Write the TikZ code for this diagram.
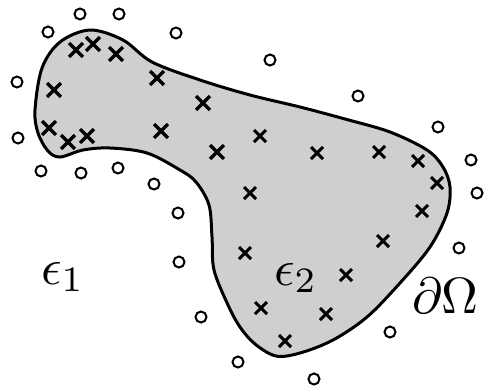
\documentclass[tikz,border=0pt]{standalone}
\usetikzlibrary{shapes.misc}
\begin{document}
\begin{tikzpicture}[x=1pt,y=-1pt,
  dot/.style={circle,draw,line width=2pt,minimum size=11pt,inner sep=0pt},
  xbig/.style={cross out,draw,line width=3.3pt,minimum size=10.5pt,inner sep=0pt},
  xsml/.style={cross out,draw,line width=3pt,minimum size=9pt,inner sep=0pt},
  lab/.style={anchor=base west,inner sep=0pt,scale=5.1}]
\useasboundingbox (0,0) rectangle (489,389);
\draw[fill=black!19,line width=3pt] plot[smooth cycle,tension=0.55] coordinates {
 (35,110) (42,68) (60,42) (90,30) (123,40) (152,62) (200,80) (250,95)
 (300,107) (345,119) (390,132) (427,150) (443,167) (450,187) (447,213)
 (430,247) (400,283) (367,317) (333,340) (300,353) (276,356) (255,344)
 (240,327) (228,305) (214,270) (212,237) (209,205) (196,182) (180,170)
 (147,153) (110,148) (83,150) (60,157) (48,151) (38,133)};
% outer points
\foreach \n/\p in {1/{(80,14)},2/{(119,14)},3/{(48,32)},4/{(176,33)},5/{(270,60)},
  6/{(17,82)},7/{(358,96)},8/{(18,138)},9/{(438,127)},10/{(471,160)},11/{(41,171)},
  12/{(81,173)},13/{(118,168)},14/{(154,184)},15/{(477,193)},16/{(178,213)},
  17/{(459,248)},18/{(179,262)},19/{(201,317)},20/{(390,332)},21/{(238,362)},22/{(314,379)}}
  \node[dot] (o\n) at \p {};
% inner points
\foreach \n/\p in {1/{(76,50)},2/{(93,44)},3/{(116,54)},4/{(157,78)},5/{(54,90)},
  6/{(203,103)},7/{(49,128)},8/{(68,142)},9/{(87,136)},10/{(161,131)},11/{(217,152)}}
  \node[xbig] (x\n) at \p {};
\foreach \n/\p in {12/{(260,136)},13/{(317,153)},14/{(379,152)},15/{(418,161)},
  16/{(437,183)},17/{(250,193)},18/{(422,211)},19/{(383,241)},20/{(346,275)},
  21/{(326,314)},22/{(261,308)},23/{(285,341)},24/{(245,253)}}
  \node[xsml] (x\n) at \p {};
\node[lab] (e1) at (40,284) {$\epsilon_1$};
\node[lab] (e2) at (273,285) {$\epsilon_2$};
\node[lab] (dO) at (411,313) {$\partial\Omega$};
\end{tikzpicture}
\end{document}
